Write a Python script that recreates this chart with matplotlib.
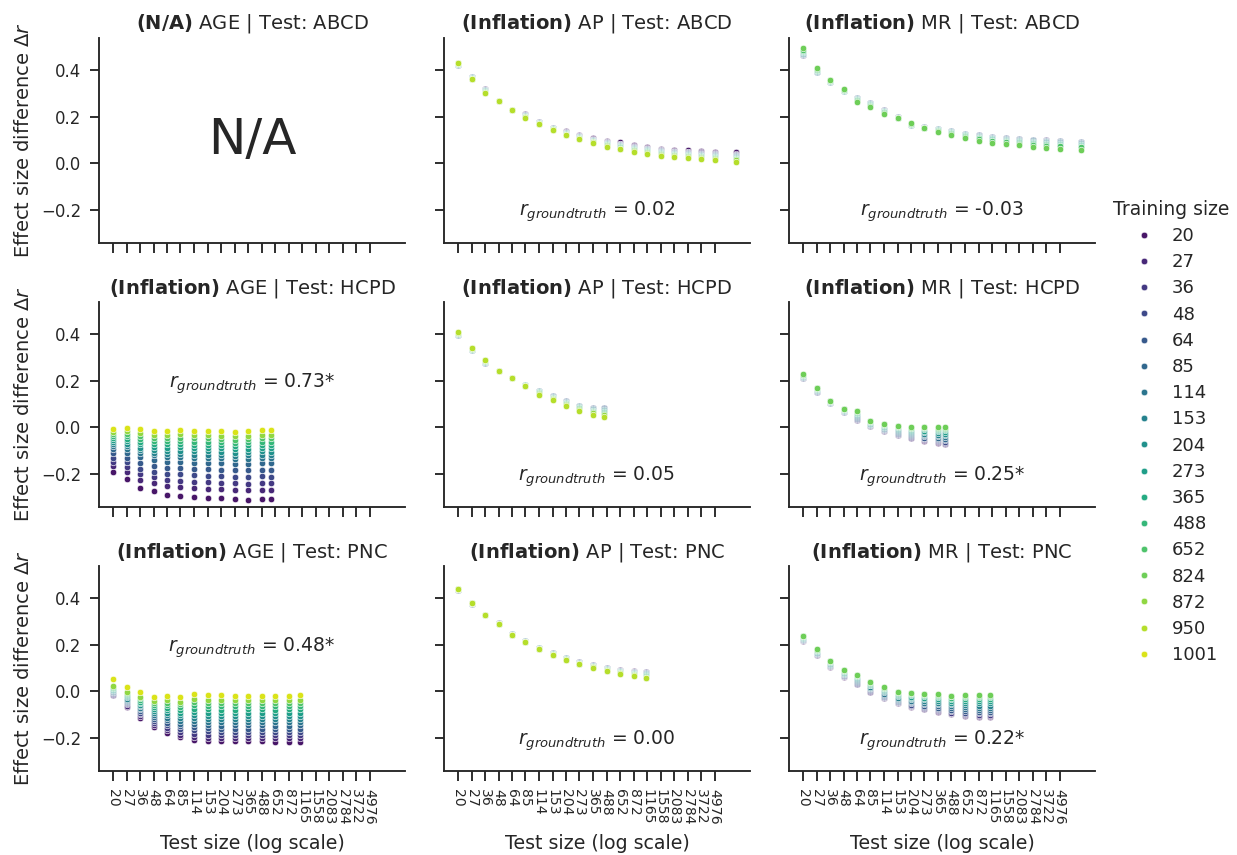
import matplotlib
matplotlib.use("Agg")
import matplotlib.pyplot as plt
from matplotlib.lines import Line2D
from matplotlib.ticker import NullLocator, FixedLocator, FixedFormatter
import seaborn as sns

# ---------------------------------------------------------------- data
TEST_TICKS = [20, 27, 36, 48, 64, 85, 114, 153, 204, 273, 365, 488, 652,
              872, 1165, 1558, 2083, 2784, 3722, 4976]

ALL_TRAIN = [20, 27, 36, 48, 64, 85, 114, 153, 204, 273, 365, 488, 652,
             824, 872, 950, 1001]
TRAIN_AGE = [20, 27, 36, 48, 64, 85, 114, 153, 204, 273, 365, 488, 652, 872, 1001]
TRAIN_AP = [20, 27, 36, 48, 64, 85, 114, 153, 204, 273, 365, 488, 652, 872, 950]
TRAIN_MR = [20, 27, 36, 48, 64, 85, 114, 153, 204, 273, 365, 488, 652, 824]

# test sizes per panel (last entry = full held-out sample)
TEST_ABCD = [20, 27, 36, 48, 64, 85, 114, 153, 204, 273, 365, 488, 652,
             872, 1165, 1558, 2083, 2784, 3722, 4976, 7900]
TEST_HCPD_AGE = [20, 27, 36, 48, 64, 85, 114, 153, 204, 273, 365, 488, 597]
TEST_HCPD_AP = [20, 27, 36, 48, 64, 85, 114, 153, 204, 273, 365, 465]
TEST_HCPD_MR = [20, 27, 36, 48, 64, 85, 114, 153, 204, 273, 365, 422]
TEST_PNC_AGE = [20, 27, 36, 48, 64, 85, 114, 153, 204, 273, 365, 488, 652, 872, 1126]
TEST_PNC_AP = [20, 27, 36, 48, 64, 85, 114, 153, 204, 273, 365, 488, 652, 872, 1130]
TEST_PNC_MR = [20, 27, 36, 48, 64, 85, 114, 153, 204, 273, 365, 488, 652, 872, 1120]

# Effect size difference: one row per test size, one value per training size
AP_ABCD = [
    [0.422, 0.422, 0.423, 0.423, 0.423, 0.424, 0.424, 0.425, 0.426, 0.426, 0.427, 0.427, 0.428, 0.429, 0.430],
    [0.371, 0.371, 0.370, 0.370, 0.369, 0.368, 0.367, 0.367, 0.366, 0.365, 0.364, 0.363, 0.362, 0.361, 0.359],
    [0.317, 0.317, 0.316, 0.315, 0.314, 0.313, 0.312, 0.310, 0.309, 0.308, 0.307, 0.305, 0.304, 0.302, 0.299],
    [0.268, 0.268, 0.268, 0.268, 0.268, 0.268, 0.267, 0.267, 0.267, 0.267, 0.267, 0.267, 0.267, 0.266, 0.266],
    [0.229, 0.229, 0.229, 0.229, 0.229, 0.229, 0.228, 0.228, 0.228, 0.228, 0.228, 0.228, 0.228, 0.227, 0.227],
    [0.212, 0.209, 0.207, 0.206, 0.205, 0.204, 0.203, 0.202, 0.201, 0.200, 0.199, 0.198, 0.197, 0.196, 0.194],
    [0.178, 0.176, 0.175, 0.175, 0.174, 0.174, 0.173, 0.173, 0.172, 0.172, 0.171, 0.171, 0.170, 0.170, 0.169],
    [0.153, 0.151, 0.150, 0.149, 0.149, 0.148, 0.148, 0.147, 0.147, 0.146, 0.146, 0.145, 0.145, 0.144, 0.143],
    [0.137, 0.134, 0.132, 0.131, 0.130, 0.129, 0.128, 0.127, 0.126, 0.126, 0.125, 0.124, 0.123, 0.122, 0.121],
    [0.121, 0.118, 0.116, 0.115, 0.114, 0.113, 0.112, 0.111, 0.110, 0.109, 0.108, 0.107, 0.106, 0.105, 0.103],
    [0.107, 0.103, 0.101, 0.100, 0.099, 0.098, 0.097, 0.096, 0.095, 0.094, 0.093, 0.092, 0.091, 0.089, 0.086],
    [0.097, 0.092, 0.090, 0.088, 0.087, 0.086, 0.084, 0.083, 0.082, 0.081, 0.080, 0.078, 0.077, 0.074, 0.070],
    [0.089, 0.084, 0.081, 0.079, 0.078, 0.076, 0.075, 0.074, 0.072, 0.071, 0.069, 0.068, 0.066, 0.063, 0.059],
    [0.079, 0.074, 0.071, 0.069, 0.067, 0.066, 0.064, 0.063, 0.061, 0.060, 0.058, 0.057, 0.055, 0.052, 0.047],
    [0.071, 0.066, 0.063, 0.061, 0.059, 0.058, 0.057, 0.055, 0.054, 0.052, 0.051, 0.049, 0.048, 0.045, 0.040],
    [0.063, 0.058, 0.055, 0.053, 0.051, 0.049, 0.048, 0.046, 0.045, 0.043, 0.042, 0.041, 0.039, 0.036, 0.031],
    [0.058, 0.053, 0.050, 0.048, 0.046, 0.044, 0.043, 0.041, 0.040, 0.038, 0.037, 0.036, 0.034, 0.031, 0.026],
    [0.055, 0.050, 0.046, 0.044, 0.042, 0.040, 0.039, 0.037, 0.036, 0.034, 0.033, 0.031, 0.029, 0.026, 0.021],
    [0.053, 0.047, 0.043, 0.041, 0.039, 0.037, 0.035, 0.033, 0.032, 0.030, 0.029, 0.027, 0.025, 0.021, 0.016],
    [0.050, 0.044, 0.040, 0.038, 0.036, 0.034, 0.032, 0.030, 0.028, 0.027, 0.025, 0.023, 0.021, 0.017, 0.012],
    [0.046, 0.040, 0.036, 0.034, 0.032, 0.030, 0.028, 0.026, 0.024, 0.022, 0.020, 0.018, 0.016, 0.012, 0.006],
]

MR_ABCD = [
    [0.465, 0.465, 0.465, 0.466, 0.467, 0.468, 0.470, 0.473, 0.475, 0.478, 0.480, 0.483, 0.486, 0.495],
    [0.390, 0.390, 0.390, 0.390, 0.391, 0.392, 0.393, 0.395, 0.396, 0.398, 0.400, 0.401, 0.403, 0.409],
    [0.349, 0.349, 0.349, 0.349, 0.349, 0.350, 0.350, 0.351, 0.352, 0.352, 0.353, 0.354, 0.355, 0.357],
    [0.308, 0.308, 0.308, 0.308, 0.309, 0.309, 0.310, 0.311, 0.311, 0.312, 0.313, 0.314, 0.315, 0.318],
    [0.280, 0.280, 0.280, 0.280, 0.279, 0.278, 0.277, 0.276, 0.274, 0.272, 0.271, 0.269, 0.267, 0.262],
    [0.258, 0.258, 0.258, 0.258, 0.257, 0.256, 0.255, 0.253, 0.252, 0.250, 0.249, 0.247, 0.245, 0.239],
    [0.226, 0.226, 0.226, 0.226, 0.225, 0.225, 0.224, 0.223, 0.221, 0.220, 0.219, 0.218, 0.216, 0.212],
    [0.196, 0.196, 0.196, 0.196, 0.196, 0.196, 0.195, 0.195, 0.195, 0.194, 0.194, 0.194, 0.193, 0.192],
    [0.162, 0.162, 0.162, 0.162, 0.163, 0.163, 0.164, 0.165, 0.166, 0.167, 0.168, 0.169, 0.170, 0.173],
    [0.154, 0.154, 0.154, 0.154, 0.154, 0.154, 0.153, 0.153, 0.153, 0.153, 0.153, 0.152, 0.152, 0.151],
    [0.147, 0.147, 0.147, 0.147, 0.146, 0.146, 0.145, 0.144, 0.143, 0.142, 0.141, 0.139, 0.138, 0.134],
    [0.137, 0.137, 0.137, 0.137, 0.136, 0.136, 0.135, 0.134, 0.132, 0.131, 0.130, 0.129, 0.127, 0.123],
    [0.127, 0.127, 0.127, 0.127, 0.126, 0.125, 0.124, 0.122, 0.120, 0.119, 0.117, 0.115, 0.113, 0.107],
    [0.120, 0.120, 0.120, 0.120, 0.119, 0.118, 0.116, 0.114, 0.112, 0.110, 0.109, 0.106, 0.104, 0.097],
    [0.113, 0.113, 0.113, 0.112, 0.112, 0.110, 0.109, 0.107, 0.104, 0.102, 0.100, 0.097, 0.095, 0.087],
    [0.108, 0.108, 0.108, 0.107, 0.107, 0.105, 0.103, 0.101, 0.099, 0.097, 0.095, 0.092, 0.089, 0.081],
    [0.104, 0.104, 0.104, 0.103, 0.103, 0.101, 0.099, 0.097, 0.095, 0.092, 0.090, 0.087, 0.084, 0.076],
    [0.101, 0.101, 0.101, 0.100, 0.099, 0.098, 0.096, 0.093, 0.090, 0.088, 0.085, 0.082, 0.079, 0.069],
    [0.098, 0.098, 0.098, 0.097, 0.096, 0.095, 0.092, 0.090, 0.087, 0.084, 0.081, 0.078, 0.074, 0.064],
    [0.096, 0.096, 0.096, 0.095, 0.094, 0.093, 0.090, 0.087, 0.084, 0.081, 0.079, 0.075, 0.072, 0.061],
    [0.091, 0.091, 0.091, 0.090, 0.089, 0.088, 0.085, 0.083, 0.080, 0.077, 0.075, 0.071, 0.068, 0.058],
]

AGE_HCPD = [
    [-0.190, -0.165, -0.148, -0.130, -0.112, -0.095, -0.081, -0.073, -0.064, -0.055, -0.046, -0.038, -0.029, -0.020, -0.007],
    [-0.224, -0.194, -0.172, -0.151, -0.130, -0.109, -0.092, -0.082, -0.071, -0.060, -0.050, -0.039, -0.028, -0.018, -0.002],
    [-0.260, -0.226, -0.202, -0.178, -0.153, -0.129, -0.111, -0.099, -0.087, -0.074, -0.062, -0.050, -0.038, -0.026, -0.008],
    [-0.275, -0.240, -0.215, -0.190, -0.165, -0.140, -0.121, -0.109, -0.096, -0.083, -0.071, -0.059, -0.046, -0.033, -0.015],
    [-0.290, -0.253, -0.226, -0.200, -0.173, -0.147, -0.127, -0.114, -0.101, -0.087, -0.074, -0.061, -0.047, -0.035, -0.015],
    [-0.295, -0.257, -0.229, -0.202, -0.175, -0.148, -0.127, -0.113, -0.100, -0.086, -0.072, -0.059, -0.045, -0.031, -0.011],
    [-0.300, -0.261, -0.234, -0.206, -0.179, -0.152, -0.130, -0.117, -0.104, -0.089, -0.075, -0.062, -0.048, -0.034, -0.014],
    [-0.302, -0.263, -0.235, -0.208, -0.180, -0.153, -0.131, -0.118, -0.104, -0.090, -0.076, -0.062, -0.048, -0.034, -0.014],
    [-0.305, -0.266, -0.238, -0.210, -0.182, -0.154, -0.133, -0.119, -0.106, -0.091, -0.077, -0.064, -0.049, -0.036, -0.015],
    [-0.307, -0.268, -0.240, -0.213, -0.185, -0.158, -0.136, -0.123, -0.109, -0.095, -0.081, -0.067, -0.053, -0.039, -0.019],
    [-0.310, -0.270, -0.242, -0.214, -0.185, -0.157, -0.135, -0.121, -0.107, -0.093, -0.078, -0.065, -0.050, -0.036, -0.015],
    [-0.307, -0.267, -0.239, -0.211, -0.182, -0.154, -0.132, -0.118, -0.104, -0.090, -0.075, -0.062, -0.047, -0.033, -0.012],
    [-0.309, -0.269, -0.240, -0.212, -0.183, -0.155, -0.133, -0.119, -0.105, -0.090, -0.076, -0.062, -0.047, -0.033, -0.012],
]

AP_HCPD = [
    [0.397, 0.396, 0.396, 0.396, 0.396, 0.397, 0.398, 0.399, 0.401, 0.401, 0.402, 0.403, 0.404, 0.406, 0.409],
    [0.330, 0.330, 0.330, 0.330, 0.330, 0.330, 0.332, 0.333, 0.334, 0.334, 0.335, 0.335, 0.336, 0.338, 0.340],
    [0.278, 0.277, 0.277, 0.277, 0.277, 0.278, 0.279, 0.280, 0.281, 0.282, 0.282, 0.283, 0.284, 0.287, 0.289],
    [0.243, 0.243, 0.243, 0.243, 0.243, 0.243, 0.243, 0.242, 0.242, 0.242, 0.242, 0.242, 0.242, 0.242, 0.242],
    [0.213, 0.213, 0.213, 0.213, 0.213, 0.213, 0.213, 0.213, 0.212, 0.212, 0.212, 0.212, 0.212, 0.211, 0.211],
    [0.182, 0.182, 0.182, 0.182, 0.182, 0.182, 0.181, 0.181, 0.180, 0.180, 0.179, 0.179, 0.178, 0.177, 0.176],
    [0.156, 0.156, 0.157, 0.157, 0.157, 0.156, 0.154, 0.153, 0.151, 0.150, 0.149, 0.148, 0.146, 0.143, 0.139],
    [0.132, 0.133, 0.133, 0.133, 0.133, 0.132, 0.131, 0.129, 0.127, 0.127, 0.126, 0.125, 0.123, 0.120, 0.117],
    [0.110, 0.110, 0.111, 0.111, 0.111, 0.110, 0.108, 0.106, 0.104, 0.103, 0.102, 0.101, 0.099, 0.095, 0.091],
    [0.091, 0.091, 0.092, 0.092, 0.092, 0.091, 0.089, 0.087, 0.085, 0.084, 0.083, 0.082, 0.079, 0.075, 0.071],
    [0.080, 0.080, 0.081, 0.081, 0.081, 0.080, 0.077, 0.074, 0.071, 0.070, 0.068, 0.067, 0.064, 0.059, 0.053],
    [0.079, 0.080, 0.081, 0.081, 0.081, 0.079, 0.075, 0.072, 0.068, 0.066, 0.064, 0.062, 0.058, 0.051, 0.043],
]

MR_HCPD = [
    [0.210, 0.211, 0.211, 0.213, 0.214, 0.215, 0.217, 0.219, 0.221, 0.222, 0.224, 0.225, 0.226, 0.227],
    [0.150, 0.151, 0.152, 0.153, 0.154, 0.156, 0.158, 0.160, 0.162, 0.164, 0.166, 0.167, 0.168, 0.169],
    [0.104, 0.104, 0.105, 0.106, 0.106, 0.107, 0.108, 0.109, 0.110, 0.111, 0.112, 0.113, 0.114, 0.114],
    [0.064, 0.064, 0.065, 0.066, 0.068, 0.069, 0.071, 0.072, 0.074, 0.076, 0.077, 0.078, 0.079, 0.080],
    [0.031, 0.032, 0.034, 0.037, 0.040, 0.043, 0.047, 0.051, 0.055, 0.059, 0.063, 0.066, 0.068, 0.070],
    [0.005, 0.006, 0.007, 0.008, 0.010, 0.012, 0.014, 0.016, 0.019, 0.021, 0.023, 0.025, 0.026, 0.027],
    [-0.015, -0.014, -0.013, -0.011, -0.009, -0.006, -0.003, 0.000, 0.002, 0.005, 0.008, 0.010, 0.012, 0.013],
    [-0.033, -0.032, -0.030, -0.027, -0.024, -0.021, -0.017, -0.013, -0.009, -0.005, -0.001, 0.002, 0.004, 0.006],
    [-0.045, -0.044, -0.041, -0.038, -0.035, -0.031, -0.026, -0.022, -0.017, -0.013, -0.008, -0.005, -0.002, 0.000],
    [-0.057, -0.055, -0.052, -0.048, -0.044, -0.038, -0.033, -0.027, -0.021, -0.015, -0.009, -0.005, -0.001, 0.001],
    [-0.066, -0.064, -0.061, -0.056, -0.051, -0.045, -0.038, -0.032, -0.025, -0.018, -0.012, -0.007, -0.003, 0.000],
    [-0.073, -0.071, -0.067, -0.062, -0.056, -0.050, -0.042, -0.035, -0.028, -0.020, -0.013, -0.007, -0.003, 0.000],
]

AGE_PNC = [
    [-0.017, -0.014, -0.011, -0.008, -0.005, -0.002, 0.001, 0.004, 0.007, 0.010, 0.013, 0.016, 0.019, 0.023, 0.051],
    [-0.066, -0.061, -0.056, -0.051, -0.046, -0.041, -0.036, -0.031, -0.026, -0.021, -0.016, -0.011, -0.006, -0.001, 0.017],
    [-0.113, -0.106, -0.099, -0.092, -0.085, -0.078, -0.072, -0.065, -0.058, -0.051, -0.044, -0.037, -0.030, -0.023, -0.004],
    [-0.152, -0.144, -0.135, -0.127, -0.118, -0.110, -0.101, -0.093, -0.084, -0.076, -0.067, -0.059, -0.050, -0.042, -0.023],
    [-0.178, -0.167, -0.156, -0.146, -0.135, -0.124, -0.113, -0.103, -0.092, -0.081, -0.070, -0.060, -0.049, -0.038, -0.019],
    [-0.198, -0.186, -0.174, -0.163, -0.151, -0.139, -0.127, -0.115, -0.103, -0.091, -0.080, -0.068, -0.056, -0.044, -0.024],
    [-0.209, -0.195, -0.182, -0.168, -0.155, -0.141, -0.128, -0.114, -0.101, -0.087, -0.074, -0.060, -0.047, -0.033, -0.012],
    [-0.213, -0.199, -0.186, -0.172, -0.159, -0.145, -0.132, -0.118, -0.105, -0.091, -0.078, -0.064, -0.051, -0.037, -0.016],
    [-0.215, -0.201, -0.188, -0.174, -0.160, -0.147, -0.133, -0.120, -0.106, -0.092, -0.079, -0.065, -0.052, -0.038, -0.016],
    [-0.215, -0.201, -0.187, -0.174, -0.160, -0.146, -0.133, -0.119, -0.106, -0.092, -0.079, -0.065, -0.052, -0.039, -0.019],
    [-0.214, -0.200, -0.187, -0.173, -0.160, -0.146, -0.132, -0.119, -0.105, -0.092, -0.078, -0.064, -0.051, -0.038, -0.019],
    [-0.215, -0.201, -0.187, -0.174, -0.160, -0.146, -0.133, -0.119, -0.105, -0.092, -0.078, -0.065, -0.051, -0.038, -0.019],
    [-0.216, -0.202, -0.188, -0.175, -0.161, -0.147, -0.133, -0.120, -0.106, -0.092, -0.079, -0.065, -0.051, -0.038, -0.019],
    [-0.216, -0.202, -0.188, -0.174, -0.161, -0.147, -0.133, -0.120, -0.106, -0.092, -0.078, -0.065, -0.051, -0.038, -0.019],
    [-0.216, -0.202, -0.188, -0.174, -0.160, -0.146, -0.132, -0.119, -0.105, -0.091, -0.077, -0.064, -0.050, -0.037, -0.017],
]

AP_PNC = [
    [0.435, 0.435, 0.435, 0.436, 0.436, 0.436, 0.437, 0.437, 0.437, 0.438, 0.438, 0.438, 0.439, 0.439, 0.440],
    [0.375, 0.375, 0.375, 0.376, 0.376, 0.376, 0.377, 0.377, 0.377, 0.378, 0.378, 0.378, 0.379, 0.379, 0.380],
    [0.326, 0.326, 0.326, 0.326, 0.326, 0.326, 0.325, 0.325, 0.325, 0.325, 0.325, 0.325, 0.325, 0.325, 0.325],
    [0.291, 0.291, 0.291, 0.291, 0.291, 0.290, 0.290, 0.290, 0.290, 0.290, 0.290, 0.290, 0.290, 0.290, 0.290],
    [0.245, 0.245, 0.245, 0.244, 0.244, 0.244, 0.244, 0.243, 0.243, 0.243, 0.242, 0.242, 0.241, 0.241, 0.240],
    [0.215, 0.215, 0.215, 0.214, 0.214, 0.214, 0.214, 0.213, 0.213, 0.213, 0.212, 0.212, 0.211, 0.211, 0.210],
    [0.186, 0.186, 0.186, 0.185, 0.185, 0.185, 0.184, 0.184, 0.183, 0.183, 0.183, 0.182, 0.182, 0.181, 0.180],
    [0.163, 0.163, 0.162, 0.162, 0.162, 0.161, 0.161, 0.160, 0.159, 0.159, 0.158, 0.158, 0.157, 0.156, 0.155],
    [0.143, 0.143, 0.142, 0.142, 0.142, 0.141, 0.141, 0.140, 0.139, 0.139, 0.138, 0.138, 0.137, 0.136, 0.135],
    [0.125, 0.125, 0.124, 0.124, 0.123, 0.123, 0.122, 0.121, 0.121, 0.120, 0.119, 0.119, 0.118, 0.117, 0.115],
    [0.112, 0.112, 0.111, 0.111, 0.110, 0.109, 0.108, 0.108, 0.107, 0.106, 0.105, 0.104, 0.103, 0.102, 0.100],
    [0.099, 0.099, 0.098, 0.098, 0.097, 0.096, 0.095, 0.095, 0.094, 0.093, 0.092, 0.091, 0.090, 0.089, 0.087],
    [0.090, 0.090, 0.089, 0.088, 0.087, 0.087, 0.086, 0.084, 0.083, 0.083, 0.081, 0.080, 0.079, 0.077, 0.075],
    [0.085, 0.084, 0.084, 0.083, 0.082, 0.080, 0.079, 0.078, 0.076, 0.075, 0.074, 0.072, 0.071, 0.068, 0.065],
    [0.083, 0.082, 0.081, 0.080, 0.078, 0.077, 0.075, 0.073, 0.071, 0.069, 0.067, 0.065, 0.063, 0.059, 0.055],
]

MR_PNC = [
    [0.217, 0.218, 0.219, 0.220, 0.222, 0.223, 0.225, 0.227, 0.229, 0.231, 0.233, 0.235, 0.236, 0.237],
    [0.156, 0.157, 0.158, 0.160, 0.162, 0.164, 0.166, 0.169, 0.171, 0.173, 0.176, 0.178, 0.179, 0.180],
    [0.106, 0.107, 0.108, 0.110, 0.112, 0.114, 0.117, 0.119, 0.122, 0.124, 0.127, 0.129, 0.130, 0.131],
    [0.063, 0.064, 0.065, 0.067, 0.069, 0.072, 0.075, 0.078, 0.080, 0.083, 0.086, 0.088, 0.090, 0.091],
    [0.030, 0.031, 0.033, 0.036, 0.039, 0.043, 0.047, 0.051, 0.055, 0.060, 0.064, 0.067, 0.069, 0.071],
    [-0.002, -0.001, 0.001, 0.004, 0.008, 0.012, 0.016, 0.020, 0.025, 0.029, 0.033, 0.037, 0.039, 0.041],
    [-0.030, -0.029, -0.026, -0.023, -0.019, -0.015, -0.010, -0.005, 0.000, 0.005, 0.009, 0.013, 0.016, 0.018],
    [-0.052, -0.051, -0.048, -0.045, -0.041, -0.036, -0.031, -0.027, -0.022, -0.017, -0.012, -0.008, -0.005, -0.003],
    [-0.066, -0.064, -0.061, -0.057, -0.052, -0.047, -0.041, -0.035, -0.029, -0.024, -0.018, -0.013, -0.009, -0.007],
    [-0.077, -0.075, -0.072, -0.067, -0.062, -0.056, -0.049, -0.042, -0.035, -0.029, -0.022, -0.017, -0.013, -0.010],
    [-0.087, -0.085, -0.081, -0.076, -0.070, -0.063, -0.056, -0.049, -0.041, -0.034, -0.026, -0.020, -0.016, -0.013],
    [-0.097, -0.095, -0.091, -0.085, -0.079, -0.072, -0.064, -0.056, -0.049, -0.041, -0.033, -0.027, -0.022, -0.019],
    [-0.105, -0.102, -0.098, -0.092, -0.085, -0.077, -0.068, -0.059, -0.050, -0.041, -0.032, -0.025, -0.020, -0.016],
    [-0.109, -0.106, -0.102, -0.095, -0.088, -0.080, -0.070, -0.061, -0.052, -0.043, -0.034, -0.026, -0.021, -0.017],
    [-0.109, -0.106, -0.102, -0.095, -0.088, -0.079, -0.070, -0.061, -0.051, -0.042, -0.033, -0.025, -0.020, -0.016],
]

# (tag, phenotype, test set, test sizes, training sizes, values, r_groundtruth, text height)
PANELS = [
    [("N/A", "AGE", "ABCD", None, None, None, None, None),
     ("Inflation", "AP", "ABCD", TEST_ABCD, TRAIN_AP, AP_ABCD, "0.02", 0.15),
     ("Inflation", "MR", "ABCD", TEST_ABCD, TRAIN_MR, MR_ABCD, "-0.03", 0.15)],
    [("Inflation", "AGE", "HCPD", TEST_HCPD_AGE, TRAIN_AGE, AGE_HCPD, "0.73*", 0.60),
     ("Inflation", "AP", "HCPD", TEST_HCPD_AP, TRAIN_AP, AP_HCPD, "0.05", 0.15),
     ("Inflation", "MR", "HCPD", TEST_HCPD_MR, TRAIN_MR, MR_HCPD, "0.25*", 0.15)],
    [("Inflation", "AGE", "PNC", TEST_PNC_AGE, TRAIN_AGE, AGE_PNC, "0.48*", 0.60),
     ("Inflation", "AP", "PNC", TEST_PNC_AP, TRAIN_AP, AP_PNC, "0.00", 0.15),
     ("Inflation", "MR", "PNC", TEST_PNC_MR, TRAIN_MR, MR_PNC, "0.22*", 0.15)],
]

# ---------------------------------------------------------------- style
plt.rcParams.update({
    "font.family": ["DejaVu Sans"],
    "axes.linewidth": 1.875,
    "xtick.major.width": 1.875,
    "ytick.major.width": 1.875,
    "xtick.major.size": 9.5,
    "ytick.major.size": 9.5,
    "xtick.major.pad": 8,
    "ytick.major.pad": 8,
    "axes.titlepad": 9,
    "axes.spines.top": False,
    "axes.spines.right": False,
    "text.color": "#262626",
    "axes.labelcolor": "#262626",
    "xtick.color": "#262626",
    "ytick.color": "#262626",
    "axes.edgecolor": "#262626",
})

palette = dict(zip(ALL_TRAIN, sns.color_palette("viridis", len(ALL_TRAIN))))

fig, axes = plt.subplots(3, 3, figsize=(1237 / 72, 855 / 72), dpi=72,
                         sharex=True, sharey=True)
fig.subplots_adjust(left=0.0800, right=0.8852, top=0.9556, bottom=0.0982,
                    wspace=0.127, hspace=0.288)

for r in range(3):
    for c in range(3):
        ax = axes[r, c]
        tag, pheno, test_set, tests, trains, values, gt, gty = PANELS[r][c]
        ax.set_xscale("log")
        if values is not None:
            for k, tr in enumerate(trains):
                ax.scatter(tests, [row[k] for row in values], s=42,
                           color=palette[tr], edgecolor="white",
                           linewidth=0.6, zorder=3)
            ax.text(0.5, gty, r"$r_{groundtruth}$ = " + gt, transform=ax.transAxes,
                    ha="center", va="center", fontsize=18.8)
        else:
            ax.text(0.5, 0.5, "N/A", transform=ax.transAxes,
                    ha="center", va="center", fontsize=50)
        ax.set_title(r"$\bf{(" + tag + r")}$ " + pheno + " | Test: " + test_set,
                     fontsize=19.5)
        ax.tick_params(axis="y", labelsize=16.5)
        if c == 0:
            ax.set_ylabel(r"Effect size difference $\Delta r$", fontsize=19.5,
                          labelpad=8)
        if r == 2:
            ax.set_xlabel("Test size (log scale)", fontsize=19, labelpad=10)

ax0 = axes[0, 0]
ax0.xaxis.set_major_locator(FixedLocator(TEST_TICKS))
ax0.xaxis.set_major_formatter(FixedFormatter([str(t) for t in TEST_TICKS]))
ax0.xaxis.set_minor_locator(NullLocator())
ax0.set_yticks([-0.2, 0.0, 0.2, 0.4])
ax0.set_ylim(-0.342, 0.537)
for ax in axes[2]:
    ax.tick_params(axis="x", labelrotation=-90, labelsize=14)

handles = [Line2D([], [], marker="o", linestyle="", markersize=6.5,
                  markerfacecolor=palette[t], markeredgecolor="white",
                  markeredgewidth=0.5, label=str(t)) for t in ALL_TRAIN]
fig.legend(handles=handles, title="Training size", loc="center left",
           bbox_to_anchor=(1097 / 1237, 0.4947), frameon=False,
           fontsize=18, title_fontsize=18.8, labelspacing=0.455,
           handletextpad=0.55)

fig.savefig("out.png", dpi=72)
